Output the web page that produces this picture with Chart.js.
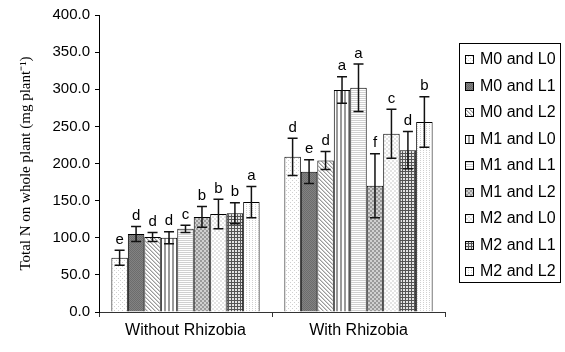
<!DOCTYPE html>
<html>
<head>
<meta charset="utf-8">
<script src="https://cdn.jsdelivr.net/npm/chart.js@4.4.1/dist/chart.umd.min.js"></script>
<style>
  html, body { margin: 0; padding: 0; background: #fff; }
</style>
</head>
<body>
<canvas id="chart" width="565" height="352"></canvas>
<script>
// data
const categories = ['Without Rhizobia', 'With Rhizobia'];
const seriesLabels = ['M0 and L0', 'M0 and L1', 'M0 and L2', 'M1 and L0', 'M1 and L1',
                      'M1 and L2', 'M2 and L0', 'M2 and L1', 'M2 and L2'];
const withoutRhizobia = [73, 105, 101, 100, 112, 128, 132, 133, 148];
const withRhizobia    = [209, 189, 204, 299, 302, 170, 240, 218, 256];
const errWithout = [10, 10, 6, 8, 5, 14, 20, 14, 21];
const errWith    = [25, 16, 12, 18, 32, 43, 33, 25, 34];
const lettersWithout = ['e', 'd', 'd', 'd', 'c', 'b', 'b', 'b', 'a'];
const lettersWith    = ['d', 'e', 'd', 'a', 'a', 'f', 'c', 'd', 'b'];

// small pixel tiles for the hatched fills
const tileColors = { w: '#ffffff', l: '#d0d0d0', m: '#9a9a9a', d: '#6c6c6c', e: '#828282', k: '#555555', g: '#e4e4e4' };
function makePattern(rows) {
    const c = document.createElement('canvas');
    c.width = rows[0].length;
    c.height = rows.length;
    const g = c.getContext('2d');
    rows.forEach((r, y) => {
        [...r].forEach((ch, x) => {
            g.fillStyle = tileColors[ch];
            g.fillRect(x, y, 1, 1);
        });
    });
    return g.createPattern(c, 'repeat');
}

const fills = [
    makePattern(['lwww', 'wwww', 'wwlw', 'wwww']),   // sparse dots
    makePattern(['de', 'ed']),                       // dark grey
    makePattern(['mlww', 'wmlw', 'wwml', 'lwwm']),   // diagonal
    makePattern(['mmww']),                           // vertical stripes
    makePattern(['llll', 'wwww']),                   // horizontal stripes
    makePattern(['mmll', 'mmll', 'llmm', 'llmm']),   // grey check
    makePattern(['ggww', 'ggww', 'wwgg', 'wwgg']),   // light check
    makePattern(['kkk', 'kgg', 'kgg']),              // dark grid
    makePattern(['lww', 'www'])                      // light dots
];

const datasets = seriesLabels.map((label, i) => ({
    label: label,
    data: [withoutRhizobia[i], withRhizobia[i]],
    errors: [errWithout[i], errWith[i]],
    letters: [lettersWithout[i], lettersWith[i]],
    backgroundColor: fills[i],
    borderColor: '#000',
    borderWidth: 1,
    categoryPercentage: 0.857,
    barPercentage: 1
}));

// error bars plus the significance letters
const errorBars = {
    id: 'errorBars',
    afterDatasetsDraw(chart) {
        const ctx = chart.ctx;
        const y = chart.scales.y;
        chart.data.datasets.forEach((ds, i) => {
            chart.getDatasetMeta(i).data.forEach((bar, j) => {
                const v = ds.data[j], e = ds.errors[j];
                const top = y.getPixelForValue(v + e);
                const bot = y.getPixelForValue(v - e);
                ctx.save();
                ctx.strokeStyle = '#111';
                ctx.lineWidth = 1.5;
                ctx.beginPath();
                ctx.moveTo(bar.x, top); ctx.lineTo(bar.x, bot);
                ctx.moveTo(bar.x - 5, top); ctx.lineTo(bar.x + 5, top);
                ctx.moveTo(bar.x - 5, bot); ctx.lineTo(bar.x + 5, bot);
                ctx.stroke();
                ctx.fillStyle = '#000';
                ctx.font = '15px "Liberation Sans", Arial, sans-serif';
                ctx.textAlign = 'center';
                ctx.textBaseline = 'bottom';
                ctx.fillText(ds.letters[j], bar.x, top - 3);
                ctx.restore();
            });
        });
    }
};

// boxed legend on the right
const boxLegend = {
    id: 'boxLegend',
    afterDraw(chart) {
        const ctx = chart.ctx;
        ctx.save();
        ctx.strokeStyle = '#000';
        ctx.lineWidth = 1;
        ctx.strokeRect(459.5, 43.5, 101, 239);
        ctx.font = '16px "Liberation Sans", Arial, sans-serif';
        ctx.textBaseline = 'middle';
        ctx.textAlign = 'left';
        chart.data.datasets.forEach((ds, i) => {
            const cy = Math.round(59 + i * 26.55);
            ctx.fillStyle = ds.backgroundColor;
            ctx.fillRect(465, cy - 4, 9, 9);
            ctx.strokeRect(465.5, cy - 3.5, 8, 8);
            ctx.fillStyle = '#000';
            ctx.fillText(ds.label, 480, cy + 1);
        });
        ctx.restore();
    }
};

new Chart(document.getElementById('chart'), {
    type: 'bar',
    data: { labels: categories, datasets: datasets },
    options: {
        responsive: false,
        animation: false,
        layout: { padding: { left: 0, right: 120, top: 15, bottom: 0 } },
        plugins: {
            legend: { display: false },
            tooltip: { enabled: false }
        },
        scales: {
            x: {
                afterFit: (s) => { s.height = 40; },
                grid: { drawOnChartArea: false, color: '#333', tickLength: 5 },
                border: { color: '#333' },
                ticks: {
                    color: '#000',
                    padding: 4,
                    font: { family: '"Liberation Sans", Arial, sans-serif', size: 16 }
                }
            },
            y: {
                min: 0,
                max: 400,
                afterFit: (s) => { s.width = 99; },
                grid: { drawOnChartArea: false, color: '#000', tickLength: 4 },
                border: { color: '#000' },
                ticks: {
                    stepSize: 50,
                    color: '#000',
                    padding: 5,
                    font: { family: '"Liberation Sans", Arial, sans-serif', size: 15 },
                    callback: (v) => v.toFixed(1)
                },
                title: {
                    display: true,
                    text: 'Total N on whole plant (mg plant\u207B\u00B9)',
                    color: '#000',
                    padding: { top: 17, bottom: 0 },
                    font: { family: '"Liberation Serif", "Times New Roman", serif', size: 15 }
                }
            }
        }
    },
    plugins: [errorBars, boxLegend]
});
</script>
</body>
</html>
